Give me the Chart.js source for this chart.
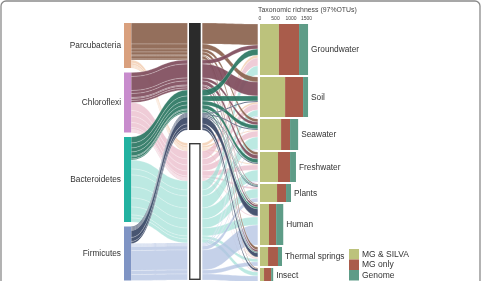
<!DOCTYPE html>
<html><head><meta charset="utf-8">
<script src="https://cdn.jsdelivr.net/npm/chart.js@4/dist/chart.umd.min.js"></script>
<style>html,body{margin:0;padding:0;background:#fff;overflow:hidden}#wrap{width:481px;height:281px;position:relative}</style>
</head><body><div id="wrap"><canvas id="c" width="481" height="281"></canvas></div>
<script>
// ---------- data ----------
const phyla = ['Parcubacteria', 'Chloroflexi', 'Bacteroidetes', 'Firmicutes'];
const centerNodes = ['dark', 'light'];
const environments = ['Groundwater', 'Soil', 'Seawater', 'Freshwater', 'Plants', 'Human', 'Thermal springs', 'Insect'];
// flow sizes per environment (same order as environments)
const parcToDark   = [21, 5, 3, 3, 0, 1, 3, 1];
const chloroToDark = [4, 14, 3, 4, 1, 2, 2, 0];
const bacteToDark  = [6, 5, 4, 4, 1, 2, 1, 0];
const firmiToDark  = [0, 1, 1, 1, 1, 7, 4, 2];
const parcToLight   = [3, 2, 1, 1, 0, 0, 1, 0];
const chloroToLight = [8, 6, 6, 5, 2, 1, 1, 1];
const bacteToLight  = [9, 6, 12, 11, 9, 8, 3, 4];
const firmiToLight  = [0, 1, 1, 1, 4, 20, 4, 6];
// taxonomic richness (97% OTUs)
const richnessSeries = ['MG & SILVA', 'MG only', 'Genome'];
const richnessMgSilva = [610, 810, 680, 580, 550, 290, 260, 130];
const richnessMgOnly  = [650, 580, 290, 390, 290, 230, 320, 230];
const richnessGenome  = [290, 160, 260, 190, 160, 230, 130, 65];
const richnessTicks = [0, 500, 1000, 1500];

// ---------- styles ----------
const nodeColors = ['#d9a07e', '#c88ccd', '#22b2a1', '#7f94c4'];
const darkFlowColors = ['rgba(140,100,80,0.93)', 'rgba(128,78,94,0.93)', 'rgba(42,118,98,0.92)', 'rgba(58,72,102,0.93)'];
const lightFlowColors = ['rgba(242,200,168,0.75)', 'rgba(232,182,198,0.7)', 'rgba(160,224,214,0.7)', 'rgba(178,194,226,0.75)'];
const richColors = ['#bcc27c', '#a95c4b', '#5e9c87'];
const FONT = '"Liberation Sans", Arial, Helvetica, sans-serif';

const flows = [
  [parcToDark, chloroToDark, bacteToDark, firmiToDark],
  [parcToLight, chloroToLight, bacteToLight, firmiToLight]
];
const sum = a => a.reduce((s, v) => s + v, 0);

const GAP_L = 4.5, GAP_C = 13, GAP_E = 2, ENV_OFF = 1;
const AX = { phylum: 0, phylumW: 0.11, center: 1, centerW: 0.18, env: 2.09 };

function ribbon(ctx, x0, y0a, y0b, x1, y1a, y1b) {
  const xm = (x0 + x1) / 2;
  ctx.beginPath();
  ctx.moveTo(x0, y0a);
  ctx.bezierCurveTo(xm, y0a, xm, y1a, x1, y1a);
  ctx.lineTo(x1, y1b);
  ctx.bezierCurveTo(xm, y1b, xm, y0b, x0, y0b);
  ctx.closePath();
}

const alluvial = {
  id: 'alluvial',
  beforeDatasetsDraw(chart) {
    const ctx = chart.ctx;
    const X = v => chart.scales.x.getPixelForValue(v);
    const Y = v => chart.scales.y.getPixelForValue(v);
    const XR = v => chart.scales.xr.getPixelForValue(v);
    const nP = phyla.length, nC = centerNodes.length, nE = environments.length;

    // node totals
    const phyTot = phyla.map((_, p) => sum(flows[0][p]) + sum(flows[1][p]));
    const cenTot = centerNodes.map((_, c) => flows[c].reduce((s, a) => s + sum(a), 0));
    const envTot = environments.map((_, e) => { let s = 0; for (let c = 0; c < nC; c++) for (let p = 0; p < nP; p++) s += flows[c][p][e]; return s; });
    const phyTop = [], cenTop = [], envTop = [];
    let acc = 0; phyTot.forEach(t => { phyTop.push(acc); acc += t + GAP_L; });
    acc = 0; cenTot.forEach(t => { cenTop.push(acc); acc += t + GAP_C; });
    acc = ENV_OFF; envTot.forEach(t => { envTop.push(acc); acc += t + GAP_E; });

    // strands
    const strands = [];
    for (let c = 0; c < nC; c++) for (let p = 0; p < nP; p++) for (let e = 0; e < nE; e++) {
      const v = flows[c][p][e]; if (v > 0) strands.push({ c, p, e, v });
    }
    const pc = phyTop.slice(), cc = cenTop.slice(), ec = envTop.slice();
    strands.slice().sort((a, b) => a.p - b.p || a.c - b.c || a.e - b.e).forEach(s => { s.yp = pc[s.p]; pc[s.p] += s.v; });
    strands.slice().sort((a, b) => a.c - b.c || a.p - b.p || a.e - b.e).forEach(s => { s.yc = cc[s.c]; cc[s.c] += s.v; });
    strands.slice().sort((a, b) => a.e - b.e || a.c - b.c || a.p - b.p).forEach(s => { s.ye = ec[s.e]; ec[s.e] += s.v; });

    const xl0 = X(AX.phylum + AX.phylumW), xl1 = X(AX.center) - 1.5;
    const xr0 = X(AX.center + AX.centerW) + 1.5, xr1 = X(AX.env) - 2;
    ctx.save();
    ctx.lineWidth = 0.5;
    ctx.strokeStyle = 'rgba(255,255,255,0.45)';
    [1, 0].forEach(c => {
      strands.filter(s => s.c === c).forEach(s => {
        ctx.fillStyle = c === 0 ? darkFlowColors[s.p] : lightFlowColors[s.p];
        ribbon(ctx, xl0, Y(s.yp), Y(s.yp + s.v), xl1, Y(s.yc), Y(s.yc + s.v));
        ctx.fill(); ctx.stroke();
        ribbon(ctx, xr0, Y(s.yc), Y(s.yc + s.v), xr1, Y(s.ye), Y(s.ye + s.v));
        ctx.fill(); ctx.stroke();
      });
    });
    ctx.restore();

    // phylum nodes + labels
    ctx.save();
    ctx.font = '8.3px ' + FONT;
    ctx.textAlign = 'right'; ctx.textBaseline = 'middle';
    phyla.forEach((name, p) => {
      ctx.fillStyle = nodeColors[p];
      const y0 = Y(phyTop[p]), y1 = Y(phyTop[p] + phyTot[p]);
      ctx.fillRect(X(AX.phylum), y0, X(AX.phylum + AX.phylumW) - X(AX.phylum), y1 - y0);
      ctx.fillStyle = '#333';
      ctx.fillText(name, X(AX.phylum) - 3, (y0 + y1) / 2);
    });
    // center nodes
    centerNodes.forEach((n, c) => {
      const y0 = Y(cenTop[c]), y1 = Y(cenTop[c] + cenTot[c]);
      const x0 = X(AX.center), w = X(AX.center + AX.centerW) - x0;
      if (c === 0) { ctx.fillStyle = '#2b2b2b'; ctx.fillRect(x0, y0, w, y1 - y0); }
      else { ctx.fillStyle = '#fff'; ctx.fillRect(x0, y0, w, y1 - y0); ctx.strokeStyle = '#3a3a3a'; ctx.lineWidth = 1.4; ctx.strokeRect(x0 + 0.7, y0 + 0.7, w - 1.4, y1 - y0 - 1.4); }
    });
    // richness bars + env labels
    const series = [richnessMgSilva, richnessMgOnly, richnessGenome];
    ctx.textAlign = 'left';
    environments.forEach((name, e) => {
      const y0 = Y(envTop[e]), y1 = Y(envTop[e] + envTot[e]);
      let base = 0;
      series.forEach((arr, k) => {
        ctx.fillStyle = richColors[k];
        ctx.fillRect(XR(base), y0, XR(base + arr[e]) - XR(base), y1 - y0);
        base += arr[e];
      });
      ctx.fillStyle = '#333';
      ctx.fillText(name, XR(base) + 3, (y0 + y1) / 2 + 0.5);
    });
    // richness axis title + ticks
    ctx.fillStyle = '#444';
    ctx.font = '6.9px ' + FONT;
    ctx.textAlign = 'left';
    ctx.fillText('Taxonomic richness (97%OTUs)', XR(0) - 2, 10);
    ctx.font = '5px ' + FONT;
    ctx.textAlign = 'center';
    richnessTicks.forEach(t => ctx.fillText(String(t), XR(t), 19));
    // legend
    ctx.font = '8.5px ' + FONT;
    ctx.textAlign = 'left';
    richnessSeries.forEach((name, k) => {
      const ly = 249 + k * 10.5;
      ctx.fillStyle = richColors[k];
      ctx.fillRect(349, ly, 10, 10.5);
      ctx.fillStyle = '#333';
      ctx.fillText(name, 362, ly + 5.5);
    });
    ctx.restore();
  },
  afterDraw(chart) {
    const ctx = chart.ctx;
    ctx.save();
    ctx.strokeStyle = '#8a8a8a';
    ctx.lineWidth = 1.3;
    ctx.beginPath();
    ctx.roundRect(1, 1, 479, 320, 5);
    ctx.stroke();
    ctx.restore();
  }
};

const PX_PER_UNIT = 65;
new Chart(document.getElementById('c').getContext('2d'), {
  type: 'scatter',
  data: { datasets: [] },
  options: {
    responsive: false, animation: false, devicePixelRatio: 1,
    layout: { padding: 0 },
    plugins: { legend: { display: false }, tooltip: { enabled: false } },
    scales: {
      x: { type: 'linear', display: false, min: -124 / PX_PER_UNIT, max: (481 - 124) / PX_PER_UNIT },
      y: { type: 'linear', display: false, min: -23, max: 258, reverse: true },
      xr: { type: 'linear', axis: 'x', position: 'top', display: false, min: -260 / 0.031, max: 221 / 0.031 }
    }
  },
  plugins: [alluvial]
});
</script></body></html>
